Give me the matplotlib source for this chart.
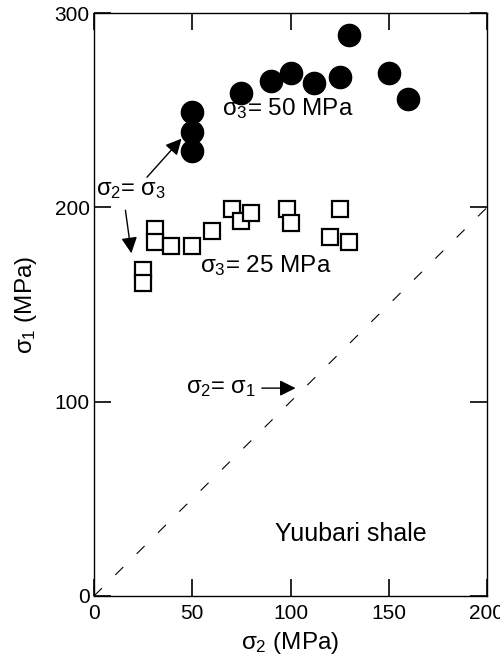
import numpy as np
import matplotlib
matplotlib.use("Agg")
import matplotlib.pyplot as plt

plt.rcParams["font.family"] = ["Liberation Sans", "DejaVu Sans"]
plt.rcParams["mathtext.fontset"] = "custom"
plt.rcParams["mathtext.rm"] = "Liberation Sans"
plt.rcParams["mathtext.it"] = "Liberation Sans"

# sigma3 = 50 MPa (filled circles)
s2_50 = [50, 50, 50, 75, 90, 100, 112, 125, 130, 150, 160]
s1_50 = [229, 239, 249, 259, 265, 269, 264, 267, 289, 269, 256]

# sigma3 = 25 MPa (open squares)
s2_25 = [25, 25, 31, 31, 39, 50, 60, 70, 75, 80, 98, 100, 125, 120, 130]
s1_25 = [168, 161, 189, 182, 180, 180, 188, 199, 193, 197, 199, 192, 199, 185, 182]

x_ticks = [0, 50, 100, 150, 200]
y_ticks = [0, 100, 200, 300]

fig = plt.figure(figsize=(5, 6.6), dpi=100)
ax = fig.add_axes([0.188, 0.097, 0.786, 0.883])

ax.plot([0, 200], [0, 200], color="black", lw=0.8, linestyle=(0, (10, 17)))
ax.plot(s2_50, s1_50, "o", color="black", ms=16, zorder=3)
ax.plot(s2_25, s1_25, "s", mfc="white", mec="black", mew=1.6, ms=11.5, zorder=3)

ax.set_xlim(0, 200)
ax.set_ylim(0, 300)
ax.set_xticks(x_ticks)
ax.set_yticks(y_ticks)
ax.tick_params(direction="in", length=12, width=1.2, labelsize=15,
               top=True, right=True)
ax.tick_params(axis="x", pad=6)
ax.tick_params(axis="y", pad=3)
for sp in ax.spines.values():
    sp.set_linewidth(1.0)

ax.set_xlabel(r"$\sigma_2$ (MPa)", fontsize=17.5, labelpad=5)
ax.set_ylabel(r"$\sigma_1$ (MPa)", fontsize=17.5, labelpad=11)

ax.text(65, 251, r"$\sigma_3$= 50 MPa", fontsize=17.5, va="center")
ax.text(54, 170, r"$\sigma_3$= 25 MPa", fontsize=17.5, va="center")
ax.text(1, 209, r"$\sigma_2$= $\sigma_3$", fontsize=17, va="center")
ax.text(47, 107, r"$\sigma_2$= $\sigma_1$", fontsize=17, va="center")
ax.text(92, 32, "Yuubari shale", fontsize=18, va="center")

arrow = dict(arrowstyle="-|>", color="black", lw=1.0, mutation_scale=24)
ax.annotate("", xy=(45.5, 236.5), xytext=(26, 214.5), arrowprops=arrow)
ax.annotate("", xy=(19.2, 175), xytext=(15.8, 200), arrowprops=arrow)
ax.annotate("", xy=(104, 107), xytext=(84, 107), arrowprops=arrow)

fig.savefig("out.png", dpi=100)
